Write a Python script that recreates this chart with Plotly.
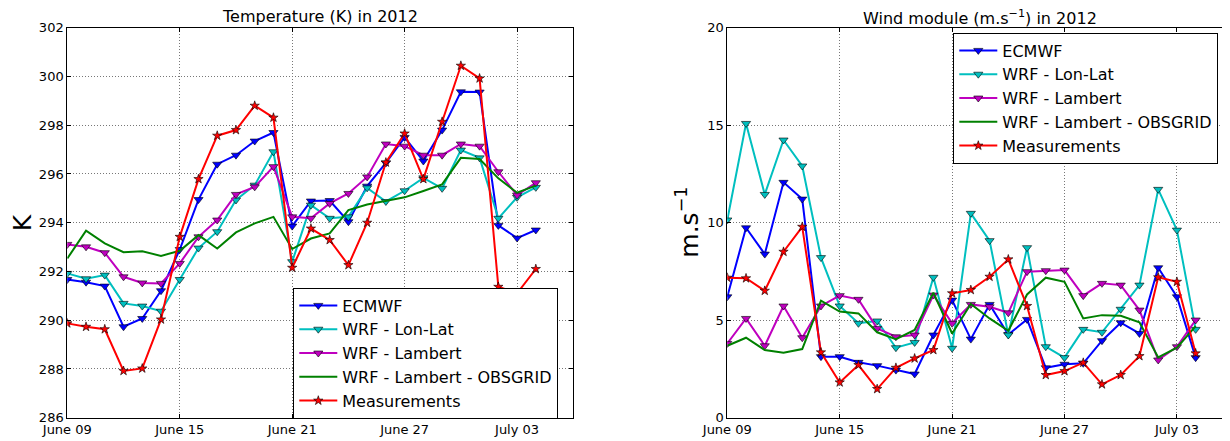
import plotly.graph_objects as go

dates = ["2012-06-09", "2012-06-10", "2012-06-11", "2012-06-12", "2012-06-13", "2012-06-14",
         "2012-06-15", "2012-06-16", "2012-06-17", "2012-06-18", "2012-06-19", "2012-06-20",
         "2012-06-21", "2012-06-22", "2012-06-23", "2012-06-24", "2012-06-25", "2012-06-26",
         "2012-06-27", "2012-06-28", "2012-06-29", "2012-06-30", "2012-07-01", "2012-07-02",
         "2012-07-03", "2012-07-04"]

tick_dates = ["2012-06-09", "2012-06-15", "2012-06-21", "2012-06-27", "2012-07-03"]
tick_text = ["June 09", "June 15", "June 21", "June 27", "July 03"]
temp_ticks = [286, 288, 290, 292, 294, 296, 298, 300, 302]
wind_ticks = [0, 5, 10, 15, 20]

# Temperature (K)
temp_ecmwf = [291.67, 291.56, 291.40, 289.73, 290.07, 291.21, 292.90, 294.95, 296.40, 296.77,
              297.35, 297.70, 293.86, 294.89, 294.91, 294.04, 295.50, 296.45, 297.50, 296.53,
              297.80, 299.37, 299.36, 293.89, 293.37, 293.70]
temp_lonlat = [291.92, 291.70, 291.85, 290.69, 290.58, 290.37, 291.67, 292.96, 293.63, 294.93,
               295.54, 296.91, 292.40, 294.72, 294.18, 294.24, 295.43, 294.87, 295.31, 295.84,
               295.41, 296.98, 296.66, 294.18, 295.04, 295.45]
temp_lambert = [293.11, 293.01, 292.77, 291.78, 291.53, 291.51, 292.33, 293.42, 294.11, 295.16,
                295.47, 296.30, 294.24, 294.18, 294.79, 295.20, 295.88, 297.23, 297.14, 296.77,
                296.77, 297.23, 297.14, 296.09, 295.13, 295.64]
temp_obsgrid = [292.53, 293.67, 293.15, 292.79, 292.83, 292.64, 292.85, 293.49, 292.94, 293.60,
                293.97, 294.24, 292.92, 293.35, 293.56, 294.52, 294.75, 294.89, 295.04, 295.30,
                295.57, 296.66, 296.61, 295.82, 295.23, 295.52]
temp_meas = [289.87, 289.73, 289.63, 287.92, 288.02, 290.03, 293.42, 295.79, 297.57, 297.80,
             298.80, 298.31, 292.15, 293.76, 293.29, 292.26, 294.00, 296.47, 297.66, 295.79,
             298.14, 300.44, 299.92, 291.37, 291.10, 292.10]

# Wind module (m/s)
wind_ecmwf = [6.20, 9.74, 8.39, 12.07, 11.21, 3.13, 3.13, 2.84, 2.67, 2.44,
              2.24, 4.24, 6.03, 4.03, 5.81, 4.27, 5.04, 2.56, 2.74, 2.79,
              3.95, 4.87, 4.32, 7.69, 6.20, 3.08]
wind_lonlat = [10.14, 15.09, 11.45, 14.24, 12.91, 8.21, 5.73, 4.84, 4.96, 3.59,
               3.86, 7.20, 3.56, 10.48, 9.08, 4.24, 8.72, 3.64, 3.08, 4.53,
               4.38, 5.56, 6.80, 11.71, 9.62, 4.53]
wind_lambert = [3.81, 5.09, 3.69, 5.73, 4.10, 5.73, 6.26, 6.07, 4.58, 4.15,
                4.24, 6.29, 4.84, 5.81, 5.69, 5.38, 7.49, 7.54, 7.57, 6.26,
                6.89, 6.80, 5.52, 2.96, 3.64, 5.01]
wind_obsgrid = [3.69, 4.10, 3.47, 3.33, 3.52, 6.00, 5.44, 5.35, 4.38, 4.03,
                4.50, 6.41, 4.32, 5.83, 5.09, 4.46, 6.32, 7.18, 6.97, 5.09,
                5.26, 5.23, 4.89, 3.09, 3.59, 4.70]
wind_meas = [7.18, 7.15, 6.51, 8.51, 9.79, 3.35, 1.81, 2.70, 1.47, 2.56,
             3.04, 3.47, 6.38, 6.55, 7.23, 8.12, 5.73, 2.19, 2.39, 2.82,
             1.71, 2.19, 3.16, 7.20, 6.97, 3.30]

names = ["ECMWF", "WRF - Lon-Lat", "WRF - Lambert", "WRF - Lambert - OBSGRID", "Measurements"]
colors = ["#0000ff", "#00bfbf", "#bf00bf", "#008000", "#ff0000"]
symbols = ["triangle-down", "triangle-down", "triangle-down", None, "star"]

temp_series = [temp_ecmwf, temp_lonlat, temp_lambert, temp_obsgrid, temp_meas]
wind_series = [wind_ecmwf, wind_lonlat, wind_lambert, wind_obsgrid, wind_meas]

FONT = "DejaVu Sans"
fig = go.Figure()


def add(values, idx, xa, ya, legend):
    sym = symbols[idx]
    kw = dict(x=dates, y=values, name=names[idx], xaxis=xa, yaxis=ya, legend=legend,
              line=dict(color=colors[idx], width=2))
    if sym is None:
        kw["mode"] = "lines"
    else:
        kw["mode"] = "lines+markers"
        kw["marker"] = dict(symbol=sym, size=8 if sym != "star" else 7, color=colors[idx],
                            line=dict(color="#000000", width=0.6))
    fig.add_trace(go.Scatter(**kw))


for i, v in enumerate(temp_series):
    add(v, i, "x", "y", "legend")
for i, v in enumerate(wind_series):
    add(v, i, "x2", "y2", "legend2")

# The page body keeps its default 8px margin, so the figure starts at (8, 8).
OFF = 8
W, H = 1230 - OFF, 441 - OFF


def px(x):
    return (x - OFF) / W


def py(y):
    return 1 - (y - OFF) / H


lx0, lx1 = px(67.3), px(573.3)
rx0, rx1 = px(727.3), 1.0
y0, y1 = py(417.7), py(27.7)

axis_common = dict(showline=True, linecolor="black", linewidth=1, mirror="ticks",
                   ticks="inside", ticklen=4, tickcolor="black", automargin=False,
                   showgrid=True, gridcolor="#777777", griddash="1px,2px", gridwidth=1,
                   zeroline=False, tickfont=dict(family=FONT, size=13, color="black"))

legend_common = dict(xanchor="left", yanchor="top", bordercolor="black", borderwidth=1,
                     bgcolor="white", font=dict(family=FONT, size=16, color="black"),
                     itemwidth=38, tracegroupgap=0)

fig.update_layout(
    width=W, height=H,
    margin=dict(l=0, r=0, t=0, b=0, autoexpand=False),
    paper_bgcolor="white", plot_bgcolor="white",
    font=dict(family=FONT, color="black"),
    xaxis=dict(domain=[lx0, lx1], type="date", range=["2012-06-09", "2012-07-06"],
               tickvals=tick_dates, ticktext=tick_text, anchor="y", **axis_common),
    yaxis=dict(domain=[y0, y1], range=[286, 302], tickvals=temp_ticks, anchor="x", **axis_common),
    xaxis2=dict(domain=[rx0, rx1], type="date", range=["2012-06-09", "2012-07-05 20:00"],
                tickvals=tick_dates, ticktext=tick_text, anchor="y2", **axis_common),
    yaxis2=dict(domain=[y0, y1], range=[0, 20], tickvals=wind_ticks, anchor="x2", **axis_common),
    legend=dict(x=px(293.3), y=py(287.5), **legend_common),
    legend2=dict(x=px(953.3), y=py(32.5), **legend_common),
    annotations=[
        dict(text="Temperature (K) in 2012", x=(lx0 + lx1) / 2, y=py(16.5),
             xref="paper", yref="paper", showarrow=False, xanchor="center", yanchor="middle",
             font=dict(family=FONT, size=16, color="black")),
        dict(text="Wind module (m.s<sup>\u22121</sup>) in 2012", x=(rx0 + px(1232.7)) / 2, y=py(17.5),
             xref="paper", yref="paper", showarrow=False, xanchor="center", yanchor="middle",
             font=dict(family=FONT, size=16, color="black")),
        dict(text="K", x=px(22.5), y=py(222.7), xref="paper", yref="paper",
             showarrow=False, textangle=-90, xanchor="center", yanchor="middle",
             font=dict(family=FONT, size=25, color="black")),
        dict(text="m.s<sup>\u22121</sup>", x=px(688), y=py(222.7), xref="paper", yref="paper",
             showarrow=False, textangle=-90, xanchor="center", yanchor="middle",
             font=dict(family=FONT, size=25, color="black")),
    ],
)

fig.write_html("out.html")
